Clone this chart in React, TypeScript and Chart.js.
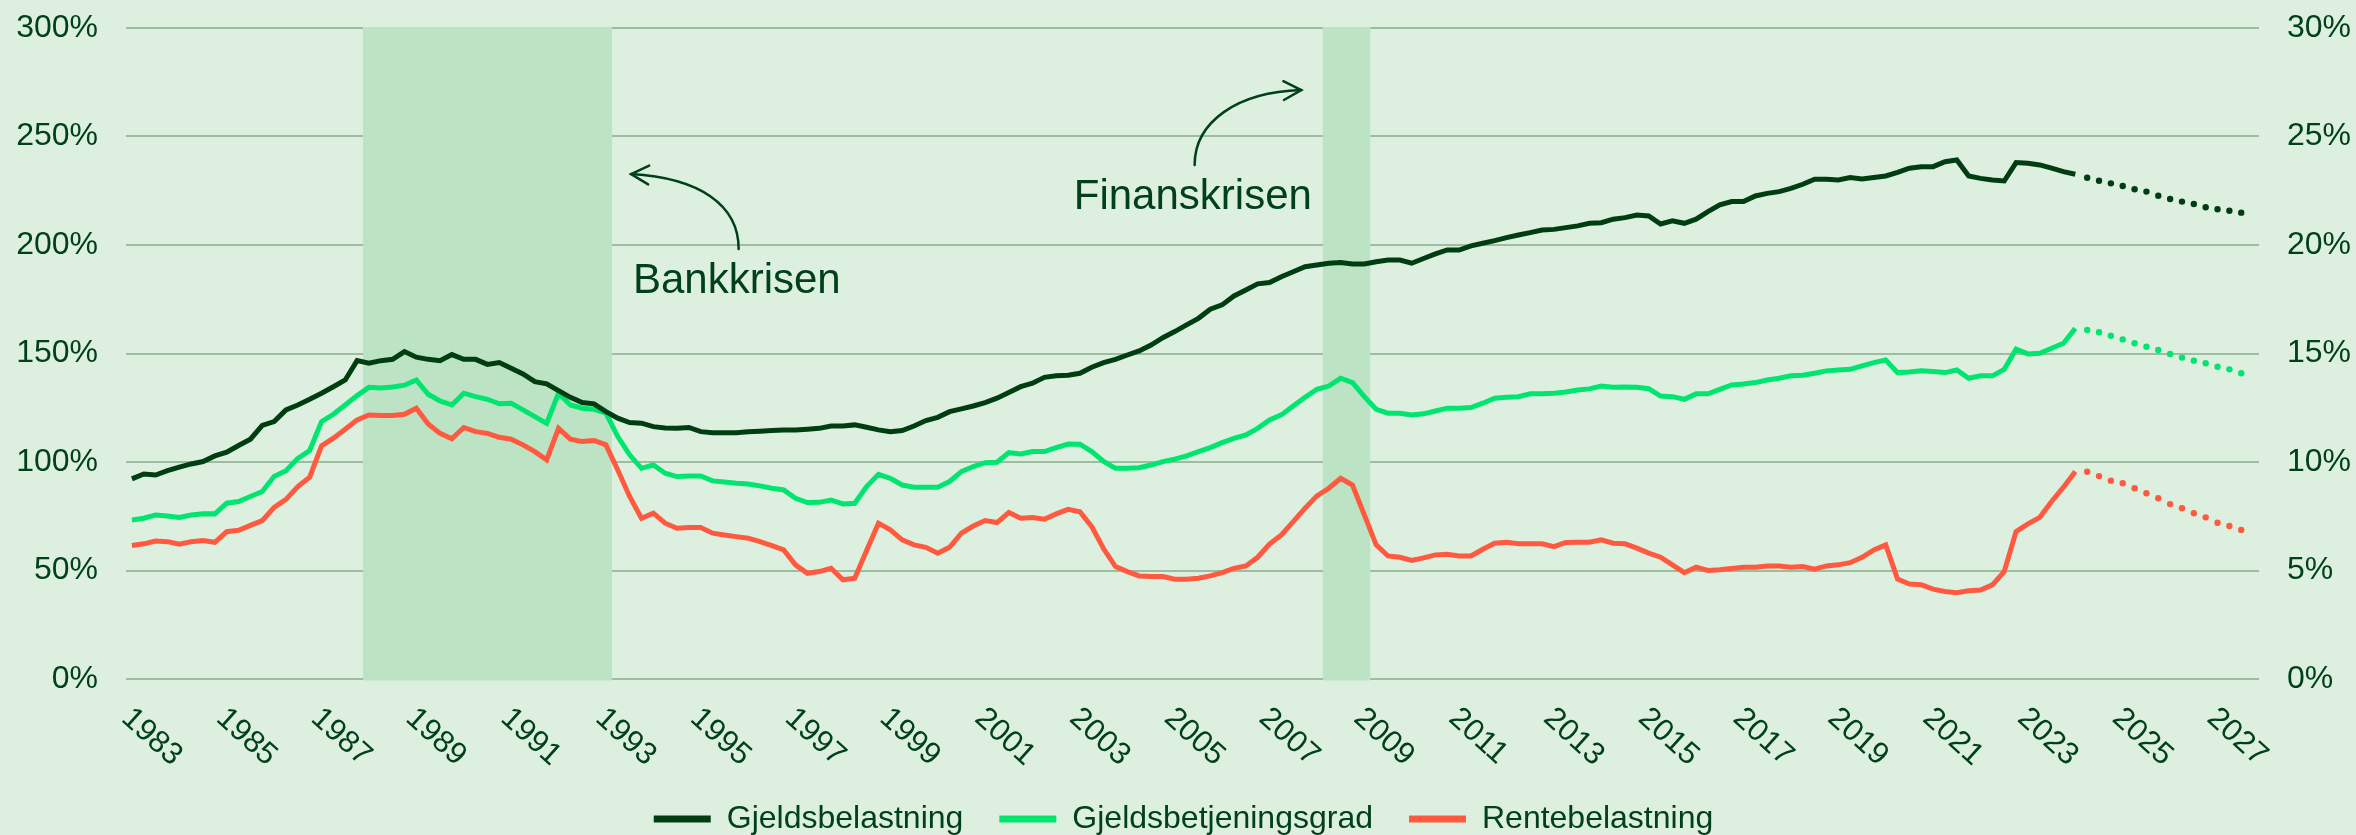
import React, { useEffect, useRef } from 'react';
import { Chart, registerables } from 'chart.js';

Chart.register(...registerables);

// ---------- DATA ----------
const START_YEAR = 1983; // first quarter: 1983 Q1, quarterly observations
const YEAR_TICKS = [1983, 1985, 1987, 1989, 1991, 1993, 1995, 1997, 1999, 2001, 2003, 2005, 2007, 2009, 2011, 2013, 2015, 2017, 2019, 2021, 2023, 2025, 2027];
const LEFT_TICK_STEP = 50;
const RIGHT_TICK_STEP = 5;

const SERIES_NAMES = ['Gjeldsbelastning', 'Gjeldsbetjeningsgrad', 'Rentebelastning'];

// Gjeldsbelastning (left axis, %)
const GJELDSBELASTNING = [
  92.2, 94.5, 94.0, 96.0,
  97.6, 99.1, 100.2, 102.8,
  104.5, 107.6, 110.5, 116.9,
  118.6, 124.0, 126.3, 128.9,
  131.7, 134.7, 137.8, 146.7,
  145.5, 146.7, 147.3, 150.9,
  148.3, 147.3, 146.7, 149.5,
  147.3, 147.3, 145.0, 145.8,
  143.2, 140.6, 137.0, 136.0,
  132.9, 129.8, 127.4, 126.8,
  123.2, 120.2, 118.2, 117.9,
  116.3, 115.7, 115.5, 115.9,
  114.0, 113.5, 113.5, 113.5,
  113.9, 114.2, 114.5, 114.8,
  114.8, 115.1, 115.5, 116.6,
  116.6, 117.1, 116.0, 114.8,
  113.9, 114.5, 116.6, 119.1,
  120.6, 123.2, 124.5, 125.8,
  127.4, 129.4, 132.0, 134.7,
  136.3, 139.0, 139.7, 140.0,
  140.9, 143.7, 145.8, 147.3,
  149.3, 151.2, 153.9, 157.3,
  160.1, 163.2, 166.2, 170.4,
  172.4, 176.5, 179.3, 182.1,
  182.7, 185.4, 187.7, 190.0,
  190.8, 191.6, 191.9, 191.3,
  191.3, 192.3, 193.1, 193.1,
  191.6, 193.8, 195.9, 197.7,
  197.7, 199.6, 200.8, 202.0,
  203.4, 204.6, 205.7, 206.9,
  207.2, 208.0, 208.8, 210.0,
  210.3, 211.9, 212.6, 213.8,
  213.4, 209.7, 211.1, 210.0,
  211.9, 215.4, 218.5, 220.0,
  220.0, 222.6, 223.8, 224.6,
  226.1, 228.0, 230.3, 230.3,
  230.0, 231.1, 230.4, 231.1,
  231.8, 233.5, 235.4, 236.1,
  236.1, 238.4, 239.2, 231.8,
  230.7, 230.0, 229.5, 238.0,
  237.7, 236.9, 235.4, 233.8,
  232.6,
];

// Gjeldsbetjeningsgrad (right axis, %)
const GJELDSBETJENINGSGRAD = [
  7.33, 7.41, 7.56, 7.51,
  7.44, 7.56, 7.62, 7.61,
  8.10, 8.18, 8.41, 8.64,
  9.33, 9.60, 10.17, 10.53,
  11.86, 12.20, 12.63, 13.06,
  13.44, 13.41, 13.46, 13.54,
  13.78, 13.12, 12.81, 12.63,
  13.17, 13.01, 12.89, 12.68,
  12.71, 12.40, 12.09, 11.78,
  13.17, 12.63, 12.48, 12.43,
  12.25, 11.17, 10.33, 9.71,
  9.86, 9.48, 9.33, 9.36,
  9.36, 9.13, 9.08, 9.02,
  8.99, 8.90, 8.79, 8.71,
  8.33, 8.13, 8.14, 8.25,
  8.07, 8.10, 8.87, 9.43,
  9.25, 8.94, 8.84, 8.84,
  8.84, 9.10, 9.56, 9.79,
  9.97, 9.99, 10.43, 10.37,
  10.48, 10.48, 10.66, 10.83,
  10.82, 10.48, 10.03, 9.71,
  9.71, 9.74, 9.86, 10.02,
  10.13, 10.28, 10.48, 10.66,
  10.89, 11.09, 11.25, 11.55,
  11.94, 12.17, 12.58, 12.98,
  13.35, 13.50, 13.86, 13.66,
  13.01, 12.43, 12.25, 12.25,
  12.17, 12.22, 12.35, 12.48,
  12.48, 12.51, 12.71, 12.94,
  12.98, 13.01, 13.14, 13.15,
  13.17, 13.23, 13.32, 13.37,
  13.50, 13.44, 13.46, 13.44,
  13.38, 13.04, 13.01, 12.89,
  13.14, 13.14, 13.35, 13.55,
  13.59, 13.66, 13.78, 13.86,
  13.97, 14.00, 14.09, 14.20,
  14.24, 14.27, 14.43, 14.58,
  14.70, 14.12, 14.15, 14.20,
  14.17, 14.12, 14.24, 13.86,
  13.97, 13.97, 14.27, 15.20,
  14.98, 15.01, 15.24, 15.47,
  16.16,
];

// Rentebelastning (right axis, %)
const RENTEBELASTNING = [
  6.15, 6.23, 6.36, 6.33,
  6.21, 6.33, 6.38, 6.30,
  6.79, 6.85, 7.08, 7.30,
  7.91, 8.28, 8.87, 9.30,
  10.74, 11.10, 11.51, 11.94,
  12.17, 12.14, 12.14, 12.20,
  12.48, 11.75, 11.32, 11.07,
  11.59, 11.40, 11.32, 11.14,
  11.05, 10.79, 10.48, 10.10,
  11.55, 11.05, 10.94, 10.99,
  10.79, 9.63, 8.41, 7.41,
  7.64, 7.18, 6.95, 6.98,
  6.98, 6.72, 6.64, 6.56,
  6.49, 6.33, 6.15, 5.95,
  5.26, 4.87, 4.95, 5.10,
  4.57, 4.64, 5.92, 7.18,
  6.87, 6.41, 6.18, 6.07,
  5.80, 6.07, 6.72, 7.05,
  7.30, 7.21, 7.67, 7.41,
  7.44, 7.36, 7.61, 7.82,
  7.71, 7.02, 6.00, 5.18,
  4.95, 4.75, 4.72, 4.72,
  4.60, 4.60, 4.64, 4.75,
  4.90, 5.10, 5.21, 5.61,
  6.22, 6.64, 7.25, 7.87,
  8.44, 8.79, 9.25, 8.94,
  7.56, 6.18, 5.67, 5.61,
  5.46, 5.58, 5.72, 5.75,
  5.67, 5.67, 5.98, 6.26,
  6.30, 6.23, 6.23, 6.23,
  6.10, 6.29, 6.30, 6.30,
  6.41, 6.26, 6.23, 6.03,
  5.80, 5.61, 5.26, 4.90,
  5.15, 5.00, 5.03, 5.09,
  5.15, 5.15, 5.21, 5.21,
  5.15, 5.18, 5.06, 5.21,
  5.26, 5.36, 5.61, 5.95,
  6.18, 4.60, 4.38, 4.34,
  4.14, 4.03, 3.98, 4.07,
  4.10, 4.34, 4.95, 6.79,
  7.15, 7.45, 8.18, 8.84,
  9.56,
];

// Projections, quarterly from 2024 Q2
const PROJ_START = 2024.25;
const GJELDSBELASTNING_PROJ = [231.0, 229.6, 228.4, 227.2, 225.7, 224.6, 222.7, 221.2, 220.0, 218.9, 217.4, 216.5, 215.8, 214.9];
const GJELDSBETJENINGSGRAD_PROJ = [16.08, 15.98, 15.82, 15.65, 15.47, 15.31, 15.16, 14.98, 14.81, 14.67, 14.55, 14.39, 14.27, 14.09];
const RENTEBELASTNING_PROJ = [9.55, 9.35, 9.14, 9.02, 8.79, 8.56, 8.33, 8.06, 7.87, 7.64, 7.45, 7.20, 7.05, 6.87];

// Crisis periods (shaded)
const CRISES = [
  { from: 1987.875, to: 1993.125 },
  { from: 2008.125, to: 2009.125 },
];

// Annotations, in data coordinates (x: year, y: left-axis %)
const ANNOTATIONS = [
  { text: 'Bankkrisen', at: [1993.57, 177.9], arrow: [[1995.80, 198.2], [1995.80, 218.4], [1994.98, 230.9], [1993.53, 232.7]] },
  { text: 'Finanskrisen', at: [2002.87, 216.6], arrow: [[2005.42, 236.9], [2005.42, 256.7], [2006.31, 270.5], [2007.67, 271.4]] },
];

// ---------- STYLE ----------
const BG = '#DDF0E0';
const SHADE = '#BBE3C4';
const GRID = '#9DBDA0';
const TEXT = '#00401B';
const DARK = '#003E12';
const BRIGHT = '#00E56F';
const RED = '#FF5A40';
const FONT = "'Liberation Sans', Arial, sans-serif";

const toPoints = (arr: number[], start: number) => arr.map((v, i) => ({ x: start + i / 4, y: v }));

const crisisPlugin = {
  id: 'crisisAndLabels',
  beforeDatasetsDraw(chart: any) {
    const { ctx, chartArea, scales } = chart;
    const x = scales.x;
    ctx.save();
    ctx.fillStyle = SHADE;
    CRISES.forEach((c) => {
      const x0 = x.getPixelForValue(c.from);
      const x1 = x.getPixelForValue(c.to);
      ctx.fillRect(x0, chartArea.top - 1, x1 - x0, chartArea.bottom - chartArea.top + 2.5);
    });
    ctx.restore();
  },
  afterDraw(chart: any) {
    const { ctx, chartArea, scales } = chart;
    const x = scales.x;
    const y = scales.y;
    ctx.save();
    // x tick labels, rotated clockwise
    ctx.fillStyle = TEXT;
    ctx.font = `31px ${FONT}`;
    ctx.textAlign = 'left';
    ctx.textBaseline = 'middle';
    YEAR_TICKS.forEach((yr) => {
      const px = x.getPixelForValue(yr);
      ctx.save();
      ctx.translate(px - 6, chartArea.bottom + 35);
      ctx.rotate((42 * Math.PI) / 180);
      ctx.fillText(String(yr), 0, 0);
      ctx.restore();
    });
    // annotations
    ANNOTATIONS.forEach((a) => {
      ctx.font = `42px ${FONT}`;
      ctx.textBaseline = 'alphabetic';
      ctx.textAlign = 'left';
      ctx.fillStyle = TEXT;
      ctx.fillText(a.text, x.getPixelForValue(a.at[0]), y.getPixelForValue(a.at[1]));
      const p = a.arrow.map((q) => [x.getPixelForValue(q[0]), y.getPixelForValue(q[1])]);
      ctx.strokeStyle = TEXT;
      ctx.lineWidth = 2.5;
      ctx.lineCap = 'round';
      ctx.beginPath();
      ctx.moveTo(p[0][0], p[0][1]);
      ctx.bezierCurveTo(p[1][0], p[1][1], p[2][0], p[2][1], p[3][0], p[3][1]);
      ctx.stroke();
      const ang = Math.atan2(p[3][1] - p[2][1], p[3][0] - p[2][0]);
      const len = 20;
      const spread = (28 * Math.PI) / 180;
      ctx.beginPath();
      ctx.moveTo(p[3][0] - len * Math.cos(ang - spread), p[3][1] - len * Math.sin(ang - spread));
      ctx.lineTo(p[3][0], p[3][1]);
      ctx.lineTo(p[3][0] - len * Math.cos(ang + spread), p[3][1] - len * Math.sin(ang + spread));
      ctx.stroke();
    });
    ctx.restore();
  },
};

export default function App() {
  const ref = useRef<HTMLCanvasElement | null>(null);

  useEffect(() => {
    document.body.style.margin = '0';
    const canvas = ref.current;
    if (!canvas) return;
    const colors = [DARK, BRIGHT, RED];
    const hist = [GJELDSBELASTNING, GJELDSBETJENINGSGRAD, RENTEBELASTNING];
    const proj = [GJELDSBELASTNING_PROJ, GJELDSBETJENINGSGRAD_PROJ, RENTEBELASTNING_PROJ];
    const axes = ['y', 'y1', 'y1'];

    const datasets: any[] = [];
    hist.forEach((arr, i) => {
      datasets.push({
        label: SERIES_NAMES[i],
        data: toPoints(arr, START_YEAR),
        borderColor: colors[i],
        backgroundColor: colors[i],
        borderWidth: 5,
        pointRadius: 0,
        tension: 0,
        fill: false,
        yAxisID: axes[i],
      });
    });
    proj.forEach((arr, i) => {
      datasets.push({
        label: SERIES_NAMES[i] + ' (prognose)',
        data: toPoints(arr, PROJ_START),
        borderColor: colors[i],
        backgroundColor: colors[i],
        showLine: false,
        pointRadius: 3.2,
        pointBorderWidth: 0,
        pointHoverRadius: 0,
        yAxisID: axes[i],
      });
    });

    const tickFont = { size: 32, family: FONT };
    const fitY = (w: number) => (s: any) => {
      s.width = w;
      s.paddingTop = 0;
      s.paddingBottom = 0;
    };
    const chart = new Chart(canvas, {
      type: 'line',
      data: { datasets },
      options: {
        responsive: false,
        animation: false,
        events: [],
        layout: { padding: { top: 28, left: 16, right: 5, bottom: -10 } },
        scales: {
          x: {
            type: 'linear',
            min: 1982.875,
            max: 2027.875,
            grid: { display: false, drawTicks: false },
            border: { display: false },
            ticks: { display: false },
            afterFit: (s: any) => { s.height = 88; },
          },
          y: {
            position: 'left',
            min: 0,
            max: 300,
            ticks: { stepSize: LEFT_TICK_STEP, padding: 28, color: TEXT, font: tickFont, callback: (v: any) => v + '%' },
            grid: { color: GRID, lineWidth: 2, drawTicks: false },
            border: { display: false },
            afterFit: fitY(110),
          },
          y1: {
            position: 'right',
            min: 0,
            max: 30,
            ticks: { stepSize: RIGHT_TICK_STEP, padding: 28, color: TEXT, font: tickFont, callback: (v: any) => v + '%' },
            grid: { display: false, drawTicks: false },
            border: { display: false },
            afterFit: fitY(92),
          },
        },
        plugins: {
          tooltip: { enabled: false },
          legend: {
            position: 'bottom',
            align: 'center',
            labels: {
              boxWidth: 57,
              boxHeight: 7,
              padding: 36,
              color: TEXT,
              font: { size: 32, family: FONT },
              generateLabels: (c: any) =>
                c.data.datasets.slice(0, 3).map((ds: any, i: number) => ({
                  text: ds.label,
                  fillStyle: ds.borderColor,
                  strokeStyle: ds.borderColor,
                  lineWidth: 0,
                  fontColor: TEXT,
                  hidden: false,
                  datasetIndex: i,
                })),
            },
          },
        },
      } as any,
      plugins: [crisisPlugin],
    });
    return () => chart.destroy();
  }, []);

  return (
    <div style={{ width: 2356, height: 835, background: BG }}>
      <canvas ref={ref} width={2356} height={835} style={{ display: 'block' }} />
    </div>
  );
}
